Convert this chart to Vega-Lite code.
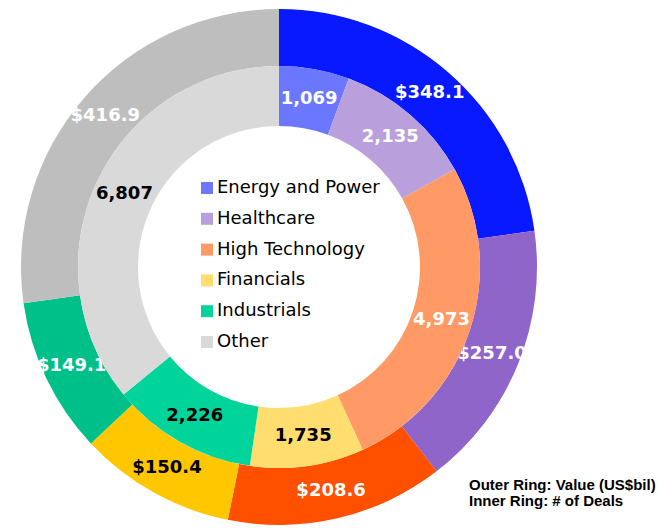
{
  "$schema": "https://vega.github.io/schema/vega-lite/v6.json",
  "autosize": "none",
  "width": 558,
  "height": 524,
  "padding": {"left": 0, "top": 5, "right": 114, "bottom": 0},
  "background": "white",
  "config": {"view": {"stroke": null}},
  "data": {
    "values": [
      {"idx": 1, "sector": "Energy and Power", "value": 348.1, "deals": 1069},
      {"idx": 2, "sector": "Healthcare", "value": 257.0, "deals": 2135},
      {"idx": 3, "sector": "High Technology", "value": 208.6, "deals": 4973},
      {"idx": 4, "sector": "Financials", "value": 150.4, "deals": 1735},
      {"idx": 5, "sector": "Industrials", "value": 149.1, "deals": 2226},
      {"idx": 6, "sector": "Other", "value": 416.9, "deals": 6807}
    ]
  },
  "title": {
    "text": ["Outer Ring: Value (US$bil)", "Inner Ring: # of Deals"],
    "orient": "bottom",
    "anchor": "start",
    "frame": "group",
    "align": "left",
    "baseline": "top",
    "dx": 469,
    "offset": -51,
    "font": "Liberation Sans",
    "fontSize": 15,
    "fontWeight": "bold",
    "lineHeight": 15.5,
    "color": "black"
  },
  "layer": [
    {
      "layer": [
        {
          "mark": {"type": "arc", "radius": 258, "radius2": 201},
          "encoding": {
            "theta": {"field": "value", "type": "quantitative", "stack": true},
            "order": {"field": "idx", "type": "quantitative"},
            "color": {
              "field": "sector",
              "type": "nominal",
              "scale": {
                "domain": ["Energy and Power", "Healthcare", "High Technology", "Financials", "Industrials", "Other"],
                "range": ["#0818FF", "#9065C9", "#FF5000", "#FFC700", "#00C08A", "#BEBEBE"]
              },
              "legend": null
            }
          }
        },
        {
          "mark": {"type": "text", "radius": 230, "font": "DejaVu Sans", "fontSize": 18, "fontWeight": "bold"},
          "encoding": {
            "theta": {"field": "value", "type": "quantitative", "stack": true},
            "order": {"field": "idx", "type": "quantitative"},
            "text": {"field": "value", "type": "quantitative", "format": "$.1f"},
            "color": {
              "condition": {"test": "datum.sector === 'Financials'", "value": "black"},
              "value": "white"
            }
          }
        }
      ]
    },
    {
      "layer": [
        {
          "mark": {"type": "arc", "radius": 201, "radius2": 141},
          "encoding": {
            "theta": {"field": "deals", "type": "quantitative", "stack": true},
            "order": {"field": "idx", "type": "quantitative"},
            "color": {
              "field": "sector",
              "type": "nominal",
              "sort": null,
              "scale": {
                "domain": ["Energy and Power", "Healthcare", "High Technology", "Financials", "Industrials", "Other"],
                "range": ["#6B77FF", "#B9A0DD", "#FF9966", "#FFDD6E", "#00D49A", "#D9D9D9"]
              },
              "legend": {
                "title": null,
                "orient": "none",
                "legendX": 198,
                "legendY": 174,
                "padding": 0,
                "symbolType": "square",
                "symbolSize": 144,
                "symbolStrokeWidth": 0,
                "symbolOpacity": 1,
                "labelFont": "DejaVu Sans",
                "labelFontSize": 18,
                "labelColor": "black",
                "labelOffset": 1,
                "rowPadding": 12.8,
                "labelLimit": 300
              }
            }
          }
        },
        {
          "mark": {"type": "text", "radius": 171, "font": "DejaVu Sans", "fontSize": 18, "fontWeight": "bold"},
          "encoding": {
            "theta": {"field": "deals", "type": "quantitative", "stack": true},
            "order": {"field": "idx", "type": "quantitative"},
            "text": {"field": "deals", "type": "quantitative", "format": ",d"},
            "color": {
              "condition": {"test": "datum.sector === 'Financials' || datum.sector === 'Industrials' || datum.sector === 'Other'", "value": "black"},
              "value": "white"
            }
          }
        }
      ]
    }
  ],
  "resolve": {"scale": {"theta": "independent", "color": "independent"}}
}
